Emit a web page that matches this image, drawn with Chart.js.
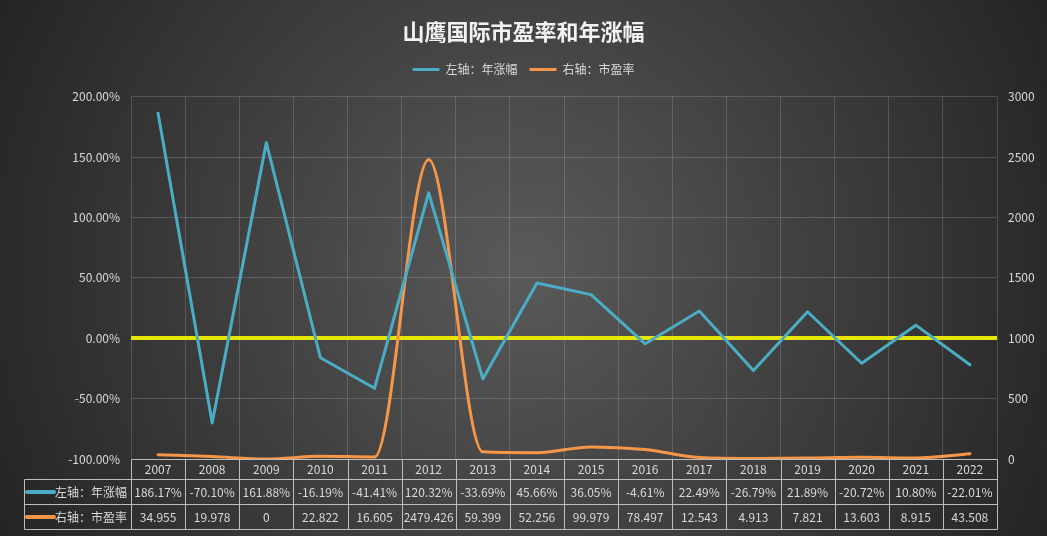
<!DOCTYPE html>
<html>
<head>
<meta charset="utf-8">
<script src="https://cdn.jsdelivr.net/npm/chart.js@4.4.1/dist/chart.umd.min.js"></script>
<style>
html,body{margin:0;padding:0;background:#262626;}
#wrap{width:1047px;height:536px;position:relative;}
</style>
</head>
<body>
<div id="wrap"><canvas id="c" width="1047" height="536"></canvas></div>
<script>
// ---- data ----
const years = ['2007','2008','2009','2010','2011','2012','2013','2014','2015','2016','2017','2018','2019','2020','2021','2022'];
const growthPct = [186.17, -70.10, 161.88, -16.19, -41.41, 120.32, -33.69, 45.66, 36.05, -4.61, 22.49, -26.79, 21.89, -20.72, 10.80, -22.01];
const peRatio = [34.955, 19.978, 0, 22.822, 16.605, 2479.426, 59.399, 52.256, 99.979, 78.497, 12.543, 4.913, 7.821, 13.603, 8.915, 43.508];
const seriesNames = ['左轴：年涨幅', '右轴：市盈率'];
const titleText = '山鹰国际市盈率和年涨幅';
const leftAxis = {min: -100, max: 200, step: 50};
const rightAxis = {min: 0, max: 3000, step: 500};

// ---- style ----
const FONT = '"Microsoft YaHei","Noto Sans CJK SC","Noto Sans",sans-serif';
const BLUE = '#4bacc6';
const ORANGE = '#f79646';
const TEXT = '#d9d9d9';
const GRID = 'rgba(255,255,255,0.16)';
const TABLE_LINE = '#bdbdbd';
const HEADER_H = 20;
const ROW_H = 25;
const TABLE_LEFT = 24;

const fmtPct = v => v.toFixed(2) + '%';
const fmtPe = v => String(v);

const bgPlugin = {
  id: 'bg',
  beforeDraw(chart) {
    const {ctx, width, height} = chart;
    const cx = width / 2, cy = height / 2;
    const g = ctx.createRadialGradient(cx, cy, 0, cx, cy, Math.hypot(cx, cy));
    g.addColorStop(0, '#5a5a5a');
    g.addColorStop(1, '#242424');
    ctx.save();
    ctx.fillStyle = g;
    ctx.fillRect(0, 0, width, height);
    ctx.restore();
  }
};

const tablePlugin = {
  id: 'dataTable',
  afterDraw(chart) {
    const {ctx, chartArea: a} = chart;
    const xs = chart.scales.x;
    const n = years.length;
    const step = xs.getPixelForValue(1) - xs.getPixelForValue(0);
    const bounds = [];
    for (let i = 0; i <= n; i++) bounds.push(Math.round(xs.getPixelForValue(0) - step / 2 + i * step) + 0.5);
    const hTop = Math.round(a.bottom) + 0.5;
    const r0 = hTop + HEADER_H;
    const r1 = r0 + ROW_H;
    const r2 = r1 + ROW_H;
    ctx.save();
    ctx.strokeStyle = TABLE_LINE;
    ctx.lineWidth = 1;
    ctx.beginPath();
    ctx.moveTo(bounds[0], hTop); ctx.lineTo(bounds[n], hTop);
    bounds.forEach(b => { ctx.moveTo(b, hTop); ctx.lineTo(b, r2); });
    [r0, r1, r2].forEach(y => { ctx.moveTo(TABLE_LEFT + 0.5, y); ctx.lineTo(bounds[n], y); });
    ctx.moveTo(TABLE_LEFT + 0.5, r0); ctx.lineTo(TABLE_LEFT + 0.5, r2);
    ctx.stroke();

    const rows = [
      {name: seriesNames[0], color: BLUE, vals: growthPct.map(fmtPct), y: (r0 + r1) / 2},
      {name: seriesNames[1], color: ORANGE, vals: peRatio.map(fmtPe), y: (r1 + r2) / 2}
    ];
    ctx.font = '12px ' + FONT;
    ctx.textBaseline = 'middle';
    rows.forEach(r => {
      ctx.strokeStyle = r.color;
      ctx.lineWidth = 4;
      ctx.lineCap = 'round';
      ctx.beginPath();
      ctx.moveTo(TABLE_LEFT + 3, r.y); ctx.lineTo(TABLE_LEFT + 30, r.y);
      ctx.stroke();
      ctx.fillStyle = TEXT;
      ctx.textAlign = 'left';
      ctx.fillText(r.name, TABLE_LEFT + 31, r.y + 0.5);
      ctx.textAlign = 'center';
      r.vals.forEach((v, i) => ctx.fillText(v, xs.getPixelForValue(i), r.y + 0.5));
    });
    ctx.restore();
  }
};

new Chart(document.getElementById('c'), {
  type: 'line',
  data: {
    labels: years,
    datasets: [
      {
        label: seriesNames[0], data: growthPct, yAxisID: 'y',
        borderColor: BLUE, backgroundColor: BLUE, borderWidth: 3,
        pointRadius: 0, pointHoverRadius: 0, tension: 0,
        borderCapStyle: 'round', borderJoinStyle: 'round'
      },
      {
        label: seriesNames[1], data: peRatio, yAxisID: 'y1',
        borderColor: ORANGE, backgroundColor: ORANGE, borderWidth: 3,
        pointRadius: 0, pointHoverRadius: 0, cubicInterpolationMode: 'monotone',
        borderCapStyle: 'round', borderJoinStyle: 'round'
      }
    ]
  },
  options: {
    responsive: false,
    animation: false,
    devicePixelRatio: 1,
    layout: {padding: {left: 0, right: 0, top: 0, bottom: 57}},
    plugins: {
      title: {
        display: true, text: titleText, color: '#f2f2f2',
        font: {family: FONT, size: 22, weight: 'bold'},
        padding: {top: 18, bottom: 7}
      },
      subtitle: {
        display: true, text: '', position: 'top', weight: 500,
        font: {size: 1}, padding: {top: 0, bottom: 10}
      },
      legend: {
        display: true, position: 'top',
        labels: {
          color: TEXT, font: {family: FONT, size: 12},
          usePointStyle: true, pointStyle: 'line', pointStyleWidth: 27,
          padding: 12
        }
      },
      tooltip: {enabled: false}
    },
    scales: {
      x: {
        type: 'category', offset: true,
        grid: {color: GRID, drawTicks: false, offset: true},
        border: {display: false},
        ticks: {color: TEXT, font: {family: FONT, size: 12}, padding: 3, maxRotation: 0, autoSkip: false},
        afterFit(s) { s.height = HEADER_H; }
      },
      y: {
        position: 'left', min: leftAxis.min, max: leftAxis.max,
        grid: {
          drawTicks: false,
          color: c => c.tick && c.tick.value === 0 ? '#e6e600' : GRID,
          lineWidth: c => c.tick && c.tick.value === 0 ? 4 : 1
        },
        border: {display: false},
        ticks: {stepSize: leftAxis.step, color: TEXT, font: {family: FONT, size: 12}, padding: 11, callback: v => fmtPct(v)},
        afterFit(s) { s.width = 131; }
      },
      y1: {
        position: 'right', min: rightAxis.min, max: rightAxis.max,
        grid: {display: false, drawTicks: false},
        border: {display: false},
        ticks: {stepSize: rightAxis.step, color: TEXT, font: {family: FONT, size: 12}, padding: 11, callback: v => String(v)},
        afterFit(s) { s.width = 50; }
      }
    }
  },
  plugins: [bgPlugin, tablePlugin]
});
</script>
</body>
</html>
